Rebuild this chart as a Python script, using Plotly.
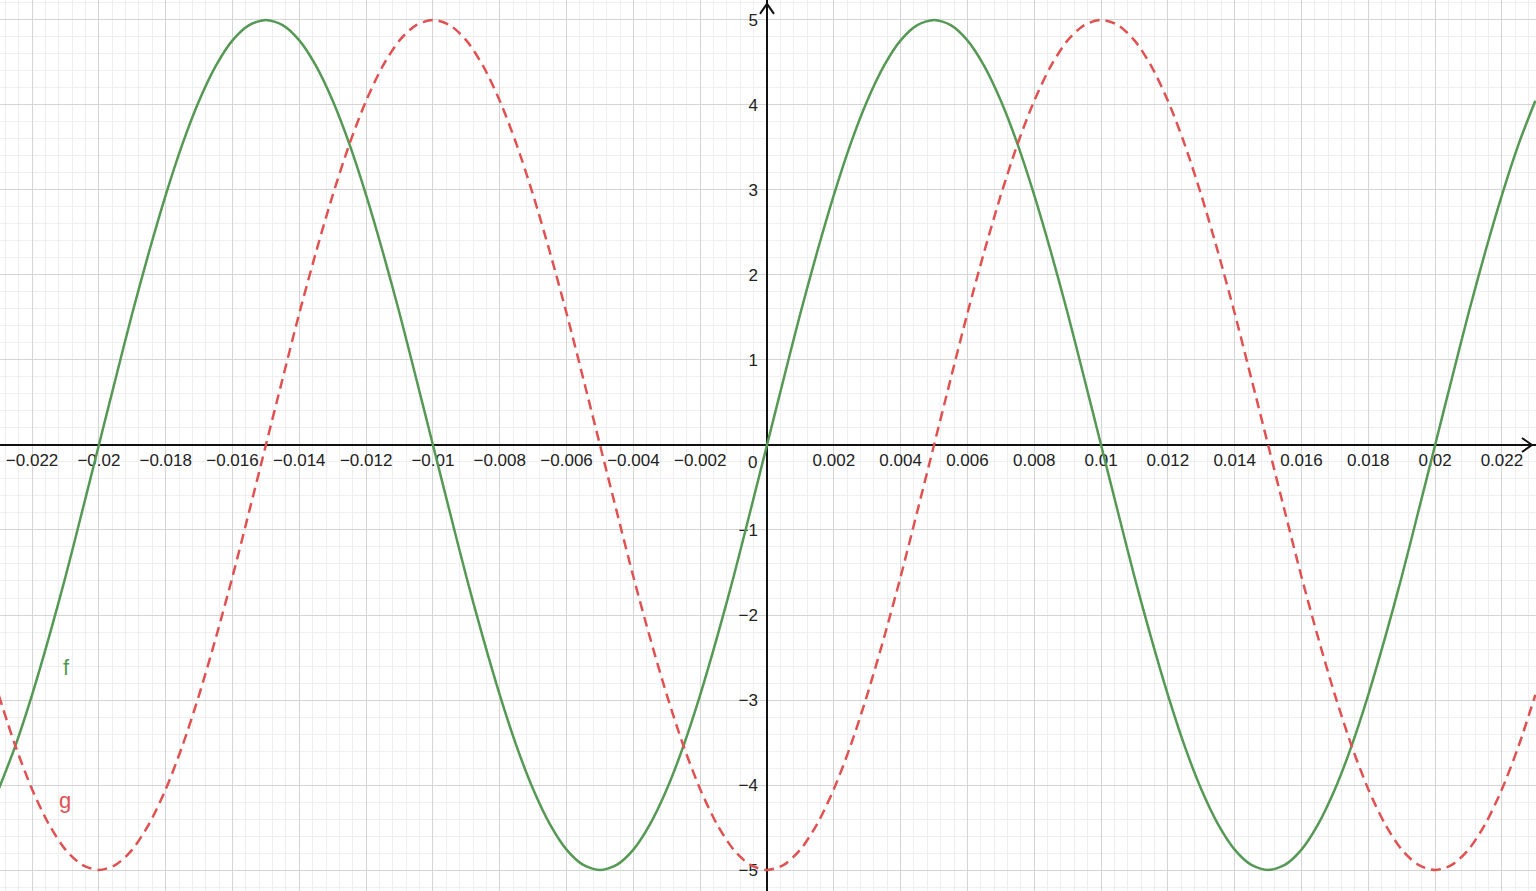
import plotly.graph_objects as go

# sample positions (s), every 0.0005 from -0.023 to 0.023
x_vals = [
    -0.0230, -0.0225, -0.0220, -0.0215, -0.0210, -0.0205, -0.0200, -0.0195, -0.0190, -0.0185,
    -0.0180, -0.0175, -0.0170, -0.0165, -0.0160, -0.0155, -0.0150, -0.0145, -0.0140, -0.0135,
    -0.0130, -0.0125, -0.0120, -0.0115, -0.0110, -0.0105, -0.0100, -0.0095, -0.0090, -0.0085,
    -0.0080, -0.0075, -0.0070, -0.0065, -0.0060, -0.0055, -0.0050, -0.0045, -0.0040, -0.0035,
    -0.0030, -0.0025, -0.0020, -0.0015, -0.0010, -0.0005, 0.0000, 0.0005, 0.0010, 0.0015,
    0.0020, 0.0025, 0.0030, 0.0035, 0.0040, 0.0045, 0.0050, 0.0055, 0.0060, 0.0065,
    0.0070, 0.0075, 0.0080, 0.0085, 0.0090, 0.0095, 0.0100, 0.0105, 0.0110, 0.0115,
    0.0120, 0.0125, 0.0130, 0.0135, 0.0140, 0.0145, 0.0150, 0.0155, 0.0160, 0.0165,
    0.0170, 0.0175, 0.0180, 0.0185, 0.0190, 0.0195, 0.0200, 0.0205, 0.0210, 0.0215,
    0.0220, 0.0225, 0.0230,
]
# f (solid green)
f_vals = [
    -4.05, -3.54, -2.94, -2.27, -1.55, -0.78,
    0, 0.78, 1.55, 2.27, 2.94, 3.54, 4.05, 4.46, 4.76, 4.94,
    5, 4.94, 4.76, 4.46, 4.05, 3.54, 2.94, 2.27, 1.55, 0.78,
    0, -0.78, -1.55, -2.27, -2.94, -3.54, -4.05, -4.46, -4.76, -4.94,
    -5, -4.94, -4.76, -4.46, -4.05, -3.54, -2.94, -2.27, -1.55, -0.78,
    0, 0.78, 1.55, 2.27, 2.94, 3.54, 4.05, 4.46, 4.76, 4.94,
    5, 4.94, 4.76, 4.46, 4.05, 3.54, 2.94, 2.27, 1.55, 0.78,
    0, -0.78, -1.55, -2.27, -2.94, -3.54, -4.05, -4.46, -4.76, -4.94,
    -5, -4.94, -4.76, -4.46, -4.05, -3.54, -2.94, -2.27, -1.55, -0.78,
    0, 0.78, 1.55, 2.27, 2.94, 3.54, 4.05,
]
# g (dashed red)
g_vals = [
    -2.94, -3.54, -4.05, -4.46, -4.76, -4.94,
    -5, -4.94, -4.76, -4.46, -4.05, -3.54, -2.94, -2.27, -1.55, -0.78,
    0, 0.78, 1.55, 2.27, 2.94, 3.54, 4.05, 4.46, 4.76, 4.94,
    5, 4.94, 4.76, 4.46, 4.05, 3.54, 2.94, 2.27, 1.55, 0.78,
    0, -0.78, -1.55, -2.27, -2.94, -3.54, -4.05, -4.46, -4.76, -4.94,
    -5, -4.94, -4.76, -4.46, -4.05, -3.54, -2.94, -2.27, -1.55, -0.78,
    0, 0.78, 1.55, 2.27, 2.94, 3.54, 4.05, 4.46, 4.76, 4.94,
    5, 4.94, 4.76, 4.46, 4.05, 3.54, 2.94, 2.27, 1.55, 0.78,
    0, -0.78, -1.55, -2.27, -2.94, -3.54, -4.05, -4.46, -4.76, -4.94,
    -5, -4.94, -4.76, -4.46, -4.05, -3.54, -2.94,
]

# tick labels
x_ticks = [-0.022, -0.02, -0.018, -0.016, -0.014, -0.012, -0.01, -0.008, -0.006, -0.004, -0.002,
           0.002, 0.004, 0.006, 0.008, 0.01, 0.012, 0.014, 0.016, 0.018, 0.02, 0.022]
x_tick_text = ["−0.022", "−0.02", "−0.018", "−0.016", "−0.014", "−0.012", "−0.01", "−0.008", "−0.006",
               "−0.004", "−0.002", "0.002", "0.004", "0.006", "0.008", "0.01", "0.012", "0.014",
               "0.016", "0.018", "0.02", "0.022"]
y_ticks = [-5, -4, -3, -2, -1, 1, 2, 3, 4, 5]
y_tick_text = ["−5", "−4", "−3", "−2", "−1", "1", "2", "3", "4", "5"]

X_RANGE = [-0.02296, 0.02302]
Y_RANGE = [-5.247, 5.235]

GREEN = "#559955"
RED = "#e05252"
FONT = "Liberation Sans"

fig = go.Figure()
fig.add_trace(go.Scatter(x=x_vals, y=f_vals, mode="lines", name="f",
                         line=dict(color=GREEN, width=2.5, shape="spline", smoothing=0.8)))
fig.add_trace(go.Scatter(x=x_vals, y=g_vals, mode="lines", name="g",
                         line=dict(color=RED, width=2.5, shape="spline", smoothing=0.8, dash="10px,6px")))

# curve names
fig.add_annotation(x=-0.02096, y=-2.62, text="f", showarrow=False,
                   font=dict(family=FONT, size=22, color=GREEN))
fig.add_annotation(x=-0.02102, y=-4.18, text="g", showarrow=False,
                   font=dict(family=FONT, size=22, color=RED))
# origin label
fig.add_annotation(x=0, y=0, text="0", showarrow=False, xanchor="right", yanchor="top",
                   xshift=-8, yshift=-6, font=dict(family=FONT, size=17, color="#222"))

# axis arrows (open chevrons)
fig.add_shape(type="path", xref="x", yref="y", xsizemode="pixel", ysizemode="pixel",
              xanchor=0.0229, yanchor=0, path="M -10,7 L 0,0 L -10,-7",
              line=dict(color="#111", width=2))
fig.add_shape(type="path", xref="x", yref="y", xsizemode="pixel", ysizemode="pixel",
              xanchor=0, yanchor=5.19, path="M -7,-10 L 0,0 L 7,-10",
              line=dict(color="#111", width=2))

fig.update_layout(
    width=1536,
    height=891,
    margin=dict(l=0, r=0, t=0, b=0),
    plot_bgcolor="white",
    paper_bgcolor="white",
    showlegend=False,
    font=dict(family=FONT, size=17, color="#222"),
    xaxis=dict(
        range=X_RANGE, anchor="free", position=(0 - Y_RANGE[0]) / (Y_RANGE[1] - Y_RANGE[0]),
        tickmode="array", tickvals=x_ticks, ticktext=x_tick_text, ticks="",
        showgrid=True, gridcolor="#d4d4d4", gridwidth=1,
        minor=dict(tickmode="linear", tick0=0, dtick=0.0004, showgrid=True, gridcolor="#efefef"),
        zeroline=True, zerolinecolor="#111", zerolinewidth=2,
        showline=False, layer="below traces", ticklabelstandoff=3,
    ),
    yaxis=dict(
        range=Y_RANGE, anchor="free", position=(0 - X_RANGE[0]) / (X_RANGE[1] - X_RANGE[0]),
        tickmode="array", tickvals=y_ticks, ticktext=y_tick_text, ticks="",
        showgrid=True, gridcolor="#d4d4d4", gridwidth=1,
        minor=dict(tickmode="linear", tick0=0, dtick=0.2, showgrid=True, gridcolor="#efefef"),
        zeroline=True, zerolinecolor="#111", zerolinewidth=2,
        showline=False, layer="below traces", ticklabelstandoff=9,
    ),
)

fig.write_html("out.html", config={"displayModeBar": False},
               post_script="document.body.style.margin='0';document.body.style.overflow='hidden';")
